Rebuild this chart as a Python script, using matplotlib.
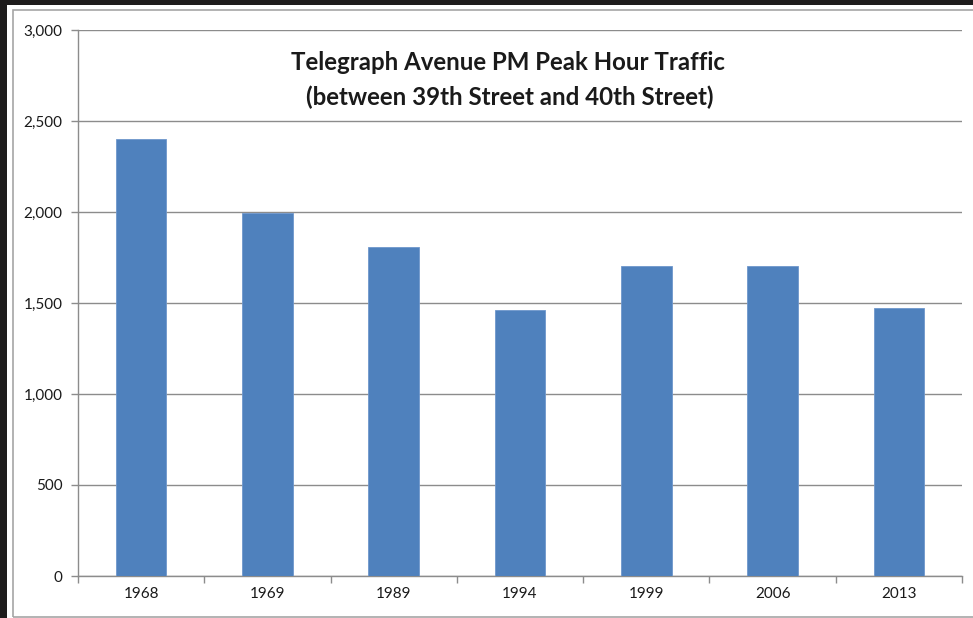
import matplotlib
matplotlib.use("Agg")
import matplotlib.pyplot as plt
from matplotlib.patches import Rectangle
from matplotlib.ticker import FuncFormatter, FixedLocator

years = ["1968", "1969", "1989", "1994", "1999", "2006", "2013"]
traffic = [2400, 1995, 1810, 1460, 1705, 1705, 1475]
yticks = [0, 500, 1000, 1500, 2000, 2500, 3000]
title_lines = ["Telegraph Avenue PM Peak Hour Traffic", "(between 39th Street and 40th Street)"]

W, H = 973, 618
fig = plt.figure(figsize=(W / 100, H / 100), dpi=100)
fig.patch.set_facecolor("white")

# dark frame at top/left
fig.patches.append(Rectangle((0, 1 - 5 / H), 1, 5 / H, transform=fig.transFigure,
                             facecolor="#1e1c1c", edgecolor="none", zorder=0))
fig.patches.append(Rectangle((0, 0), 7 / W, 1, transform=fig.transFigure,
                             facecolor="#1e1c1c", edgecolor="none", zorder=0))
# chart area border
fig.patches.append(Rectangle((13 / W, 1.5 / H), 1.2, (H - 11.5) / H, transform=fig.transFigure,
                             facecolor="none", edgecolor="#a6a6a6", linewidth=1.2, zorder=1))

left, right, top, bottom = 78, 962, 30, 576
ax = fig.add_axes([left / W, 1 - bottom / H, (right - left) / W, (bottom - top) / H])
ax.set_facecolor("none")

x = list(range(len(years)))
ax.bar(x, traffic, width=0.4, color="#4f81bd", edgecolor="#6f97cc", linewidth=0.6, zorder=3)

ax.set_xlim(-0.5, len(years) - 0.5)
ax.set_ylim(0, 3000)
ax.yaxis.set_major_locator(FixedLocator(yticks))
ax.yaxis.set_major_formatter(FuncFormatter(lambda v, p: f"{int(v):,}"))
ax.grid(axis="y", color="#8c8c8c", linewidth=1.0, zorder=0)
ax.set_axisbelow(True)

for s in ["top", "right"]:
    ax.spines[s].set_visible(False)
for s in ["left", "bottom"]:
    ax.spines[s].set_color("#8c8c8c")
    ax.spines[s].set_linewidth(1.0)

ax.set_xticks([i - 0.5 for i in range(len(years) + 1)])
ax.set_xticklabels([])
ax.set_xticks(x, minor=True)
ax.set_xticklabels(years, minor=True)
ax.tick_params(axis="x", which="major", length=5, color="#8c8c8c", width=1.0, direction="out")
ax.tick_params(axis="x", which="minor", length=0, pad=8, labelsize=11, labelcolor="#1a1a1a")
ax.tick_params(axis="y", length=5, color="#8c8c8c", width=1.0, pad=6, labelsize=11,
               labelcolor="#1a1a1a")
for lbl in ax.get_xticklabels(minor=True) + ax.get_yticklabels():
    lbl.set_fontfamily("Lato")

fig.text(508 / W, 1 - 62 / H, title_lines[0], ha="center", va="center",
         fontsize=17.3, fontweight="bold", family="Lato", color="#1a1a1a")
fig.text(510 / W, 1 - 97 / H, title_lines[1], ha="center", va="center",
         fontsize=17.3, fontweight="bold", family="Lato", color="#1a1a1a")

fig.savefig("out.png", dpi=100, facecolor="white")
